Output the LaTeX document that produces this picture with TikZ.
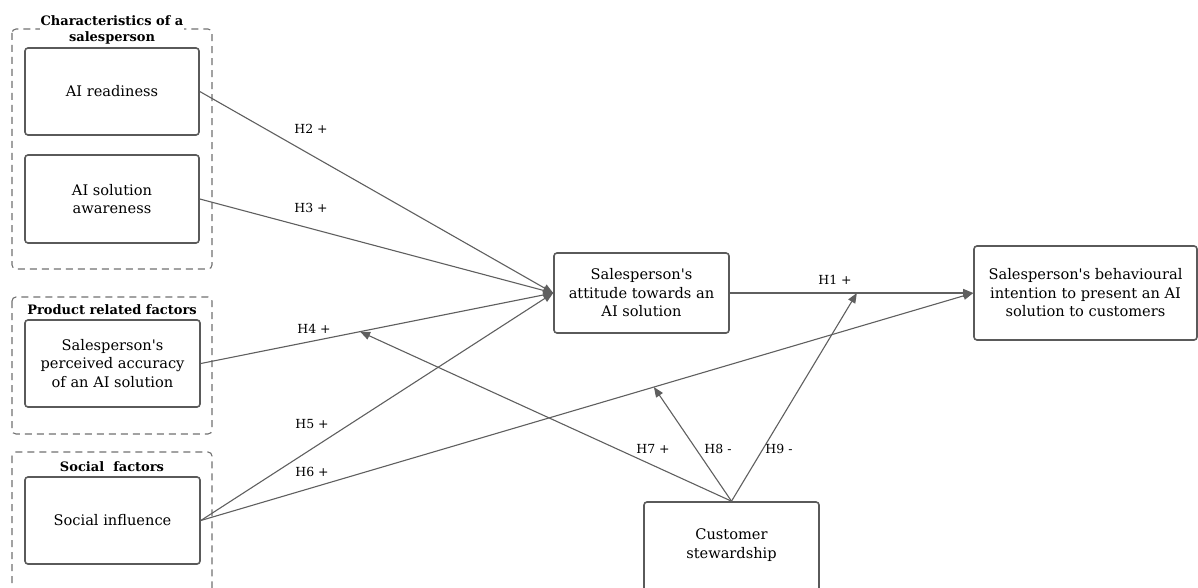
\documentclass[tikz,border=0pt]{standalone}
\usepackage{fontspec}
\setmainfont{DejaVu Serif}
\usetikzlibrary{arrows.meta,calc}
\definecolor{edgec}{HTML}{5F5F5F}
\definecolor{boxc}{HTML}{5A5A5A}
\definecolor{grpc}{HTML}{707070}
\newcommand{\ap}{\textquotesingle}
\begin{document}
\begin{tikzpicture}[x=1pt,y=-1pt,
  every node/.style={font=\fontsize{14.6}{18.5}\selectfont},
  conbox/.style={draw=boxc,line width=1.6pt,rounded corners=3pt,align=center,inner sep=0pt},
  grpbox/.style={draw=grpc,line width=1.1pt,dash pattern=on 7pt off 5pt,rounded corners=4pt},
  grptitle/.style={font=\fontsize{13}{17}\selectfont\bfseries,align=center,inner sep=1pt},
  link/.style={draw=edgec,line width=1.1pt,-{Triangle[length=10pt,width=8pt]}},
  lab/.style={font=\fontsize{12.5}{15}\selectfont,inner sep=0pt}]
\useasboundingbox (0,0) rectangle (1198,588);
% groups
\draw[grpbox] (12,29) rectangle (212,269);
\draw[grpbox] (12,297) rectangle (212,434);
\draw[grpbox] (12,452) rectangle (212,610);
\node[grptitle,fill=white] (g1) at (112,29.5) {Characteristics of a\\[-1pt]salesperson};
\node[grptitle] (g2) at (112,310) {Product related factors};
\node[grptitle] (g3) at (112,467) {Social\ \ factors};
% concept boxes
\node[conbox,minimum width=174pt,minimum height=87pt] (ar) at (112,91.5) {AI readiness};
\node[conbox,minimum width=174pt,minimum height=88pt] (aw) at (112,199) {AI solution\\awareness};
\node[conbox,minimum width=175pt,minimum height=87pt] (pa) at (112.5,363.5) {Salesperson\ap s\\perceived accuracy\\of an AI solution};
\node[conbox,minimum width=175pt,minimum height=87pt] (si) at (112.5,520.5) {Social influence};
\node[conbox,minimum width=175pt,minimum height=80pt] (att) at (641.5,293) {Salesperson\ap s\\attitude towards an\\AI solution};
\node[conbox,minimum width=223pt,minimum height=94pt] (bi) at (1085.5,293) {Salesperson\ap s behavioural\\intention to present an AI\\solution to customers};
\node[conbox,minimum width=175pt,minimum height=110pt] (cs) at (731.5,557) {};
\node[align=center,inner sep=0pt] (cst) at (731.5,545) {Customer\\stewardship};
% main paths
\draw[link] (ar.east) -- (att.west);
\draw[link] (aw.east) -- (att.west);
\draw[link] (pa.east) -- (att.west);
\draw[link] (si.east) -- (att.west);
\draw[link] (si.east) -- (bi.west);
\draw[link] (att.east) -- (bi.west);
% moderation
\coordinate (m4) at ($(pa.east)!0.452!(att.west)$);
\coordinate (m6) at ($(si.east)!0.5866!(bi.west)$);
\coordinate (m1) at ($(att.east)!0.522!(bi.west)$);
\draw[link] (cs.north) -- (m4);
\draw[link] (cs.north) -- (m6);
\draw[link] (cs.north) -- (m1);
% labels
\node[lab] (l2) at (311,129) {H2 +};
\node[lab] (l3) at (311,208) {H3 +};
\node[lab] (l4) at (314,329) {H4 +};
\node[lab] (l5) at (312,424) {H5 +};
\node[lab] (l6) at (312,472) {H6 +};
\node[lab] (l1) at (835,280) {H1 +};
\node[lab] (l7) at (653,449) {H7 +};
\node[lab] (l8) at (718,449) {H8 -};
\node[lab] (l9) at (779,449) {H9 -};
\end{tikzpicture}
\end{document}
